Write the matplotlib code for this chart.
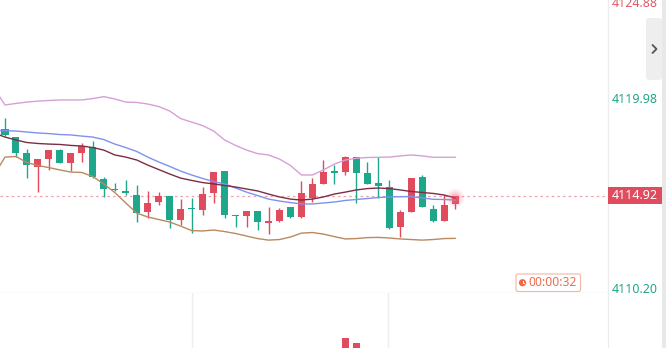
import matplotlib
matplotlib.use('Agg')
import matplotlib.pyplot as plt
from matplotlib.patches import Rectangle, FancyBboxPatch, Circle
import matplotlib.transforms as mtrans

plt.rcParams['font.family'] = ['Noto Sans', 'DejaVu Sans']

# ---------------- data ----------------
idx = list(range(42))
opens = [4118.35, 4117.94, 4117.14, 4116.42, 4116.84, 4117.28, 4116.63, 4117.14, 4117.42, 4115.78,
         4115.25, 4115.18, 4114.97, 4114.11, 4114.59, 4114.92, 4113.68, 4114.27, 4114.20, 4115.09,
         4116.20, 4113.93, 4113.90, 4114.15, 4113.51, 4113.63, 4114.34, 4113.85, 4114.83, 4115.55,
         4116.16, 4116.17, 4116.91, 4116.12, 4115.57, 4115.37, 4113.34, 4114.08, 4115.91, 4114.23,
         4113.65, 4114.49]
highs = [4118.91, 4117.94, 4117.34, 4116.82, 4117.28, 4117.35, 4117.11, 4117.63, 4117.76, 4115.91,
         4115.60, 4115.74, 4115.48, 4115.18, 4115.14, 4114.92, 4114.76, 4114.80, 4115.37, 4116.15,
         4116.20, 4113.93, 4114.15, 4114.15, 4114.34, 4114.30, 4114.34, 4115.69, 4115.83, 4116.77,
         4116.51, 4116.98, 4116.91, 4116.68, 4116.91, 4115.74, 4114.20, 4115.83, 4116.00, 4114.45,
         4114.97, 4114.92]
lows = [4118.03, 4116.94, 4115.86, 4115.14, 4116.26, 4116.63, 4116.20, 4116.68, 4115.84, 4114.85,
        4115.20, 4114.97, 4113.60, 4113.77, 4114.45, 4113.26, 4113.43, 4113.00, 4113.94, 4114.54,
        4113.77, 4113.31, 4113.31, 4113.17, 4112.96, 4113.60, 4113.77, 4113.80, 4114.59, 4115.55,
        4115.54, 4116.00, 4114.54, 4115.52, 4114.80, 4113.22, 4112.79, 4114.08, 4114.34, 4113.60,
        4113.65, 4114.25]
closes = [4118.04, 4117.14, 4116.50, 4116.81, 4117.28, 4116.63, 4117.11, 4117.49, 4115.88, 4115.26,
          4115.21, 4115.06, 4114.03, 4114.57, 4114.92, 4113.68, 4114.25, 4114.23, 4115.02, 4116.15,
          4113.94, 4113.89, 4114.15, 4113.57, 4113.63, 4114.20, 4113.85, 4115.09, 4115.54, 4116.14,
          4116.12, 4116.91, 4116.09, 4115.52, 4115.45, 4113.29, 4114.08, 4115.83, 4114.34, 4113.63,
          4114.45, 4114.92]

line_idx = list(range(-1, 42))
upper = [4120.47, 4119.60, 4119.68, 4119.75, 4119.80, 4119.83, 4119.86, 4119.86, 4119.86, 4119.93,
         4120.03, 4119.91, 4119.75, 4119.73, 4119.65, 4119.52, 4119.29, 4118.90, 4118.72, 4118.54,
         4118.26, 4117.80, 4117.52, 4117.28, 4117.10, 4117.03, 4116.82, 4116.49, 4116.00, 4116.00,
         4116.26, 4116.56, 4116.77, 4116.86, 4116.90, 4116.91, 4116.92, 4116.98, 4117.03, 4116.98,
         4116.91, 4116.91, 4116.91]
middle = [4118.16, 4117.95, 4117.80, 4117.67, 4117.62, 4117.59, 4117.57, 4117.52, 4117.49, 4117.41,
          4117.28, 4117.03, 4116.92, 4116.77, 4116.51, 4116.28, 4116.05, 4115.84, 4115.72, 4115.61,
          4115.54, 4115.46, 4115.38, 4115.28, 4115.18, 4115.02, 4114.87, 4114.76, 4114.71, 4114.76,
          4114.87, 4115.02, 4115.12, 4115.23, 4115.30, 4115.33, 4115.30, 4115.23, 4115.15, 4115.10,
          4115.05, 4114.97, 4114.82]
ma_blue = [4118.29, 4118.28, 4118.26, 4118.21, 4118.16, 4118.13, 4118.08, 4118.06, 4118.00, 4117.95,
           4117.82, 4117.59, 4117.41, 4117.21, 4116.92, 4116.67, 4116.44, 4116.20, 4116.00, 4115.82,
           4115.66, 4115.54, 4115.33, 4115.12, 4114.94, 4114.76, 4114.66, 4114.58, 4114.51, 4114.51,
           4114.56, 4114.61, 4114.69, 4114.74, 4114.79, 4114.84, 4114.87, 4114.88, 4114.89, 4114.82,
           4114.75, 4114.74, 4114.71]
lower = [4116.00, 4116.92, 4116.95, 4116.64, 4116.49, 4116.38, 4116.26, 4116.15, 4116.13, 4115.92,
         4115.54, 4115.10, 4114.56, 4114.04, 4113.84, 4113.71, 4113.58, 4113.37, 4113.14, 4113.12,
         4113.17, 4113.09, 4112.99, 4112.86, 4112.73, 4112.65, 4112.68, 4112.81, 4113.01, 4113.04,
         4112.96, 4112.83, 4112.71, 4112.73, 4112.78, 4112.79, 4112.76, 4112.71, 4112.68, 4112.65,
         4112.68, 4112.73, 4112.74]

last_price = 4114.92
axis_ticks = [4124.88, 4119.98, 4110.20]
axis_tick_labels = ['4124.88', '4119.98', '4110.20']
axis_tick_colors = ['#e05a6a', '#22a68a', '#22a68a']

vol_idx = [31, 32]
vol = [10.3, 5.3]
vol_colors = ['#e04b5e', '#e04b5e']
time_grid = [17.03, 34.88]
timer_text = '00:00:32'

RED = '#e04b5e'
GREEN = '#1fa78b'

# ---------------- figure ----------------
W, H = 666, 348
fig = plt.figure(figsize=(W / 100, H / 100), dpi=100)
fig.patch.set_facecolor('white')

ax = fig.add_axes([0, (H - 293) / H, 608 / W, 293 / H])
ax.set_xlim(-0.455, 54.92)
ax.set_ylim(4109.93, 4125.00)
ax.set_facecolor('white')

for s in ['top', 'left']:
    ax.spines[s].set_visible(False)
ax.spines['right'].set_color('#ececec')
ax.spines['bottom'].set_color('#ececec')
ax.spines['right'].set_linewidth(1.0)
ax.spines['bottom'].set_linewidth(1.0)
ax.set_xticks([])
ax.yaxis.tick_right()
ax.set_yticks(axis_ticks)
ax.set_yticklabels(axis_tick_labels)
ax.tick_params(axis='y', length=0, pad=3, labelsize=9)
for lab, col in zip(ax.get_yticklabels(), axis_tick_colors):
    lab.set_color(col)

# current price dotted line
ax.axhline(last_price, color='#f0a2aa', lw=0.9, ls=(0, (2, 2.5)), zorder=1)

# candles
bw = 0.64
for i, o, h, l, c in zip(idx, opens, highs, lows, closes):
    col = RED if c >= o else GREEN
    ax.vlines(i, l, h, color=col, lw=1.0, zorder=2)
    b = min(o, c)
    hgt = max(abs(c - o), 0.06)
    ax.add_patch(Rectangle((i - bw / 2, b), bw, hgt, facecolor=col, edgecolor='none', zorder=3))

# indicator lines
ax.plot(line_idx, upper, color='#d6a0d6', lw=1.0, zorder=4)
ax.plot(line_idx, lower, color='#b98a60', lw=1.0, zorder=4)
ax.plot(line_idx, ma_blue, color='#7f91ee', lw=1.0, zorder=4)
ax.plot(line_idx, middle, color='#7a2e43', lw=1.0, zorder=4)

# glow on last candle
for s_, a_ in [(170, 0.10), (95, 0.15), (45, 0.22)]:
    ax.scatter([idx[-1]], [last_price - 0.1], s=s_, color='#f26b7a', alpha=a_,
               edgecolors='none', zorder=5)

# price label box on the right
tr = mtrans.blended_transform_factory(ax.transAxes, ax.transData)
box_h = 17 / 19.44
ax.add_patch(Rectangle((1.0, last_price - box_h / 2), 55 / 608, box_h, transform=tr,
                       facecolor=RED, edgecolor='none', clip_on=False, zorder=6))
ax.text(1.0 + 4 / 608, last_price, '4114.92', transform=tr, ha='left', va='center',
        color='white', fontsize=9, zorder=7, clip_on=False)

# ---------------- volume pane ----------------
vax = fig.add_axes([0, 0, 608 / W, 55 / H])
vax.set_xlim(-0.455, 54.92)
vax.set_ylim(0, 55)
for s in ['top', 'left', 'bottom']:
    vax.spines[s].set_visible(False)
vax.spines['right'].set_color('#ececec')
vax.set_xticks(time_grid)
vax.set_xticklabels([])
vax.tick_params(length=0)
vax.set_yticks([])
vax.grid(axis='x', color='#eeeeee', lw=1.0)
vax.bar(vol_idx, vol, width=0.7, color=vol_colors, zorder=3)

# ---------------- UI overlay ----------------
oax = fig.add_axes([0, 0, 1, 1], zorder=10)
oax.set_xlim(0, W)
oax.set_ylim(H, 0)
oax.axis('off')
oax.patch.set_alpha(0)

oax.add_patch(Rectangle((662, 0), 4, H, facecolor='#e8e8e8', edgecolor='none'))
oax.add_patch(FancyBboxPatch((646, 18), 16, 62, boxstyle='round,pad=0,rounding_size=3',
                             facecolor='#eeeeee', edgecolor='none'))
oax.plot([652.5, 656.5, 652.5], [45, 49, 53], color='#555555', lw=1.3,
         solid_capstyle='round', solid_joinstyle='round')

# timer box
oax.add_patch(FancyBboxPatch((516, 274), 64.5, 17.5, boxstyle='round,pad=0,rounding_size=2',
                             facecolor='white', edgecolor='#f3b7a4', lw=0.8))
oax.add_patch(Circle((522.5, 282.7), 3.6, facecolor='#ee6a45', edgecolor='none'))
oax.plot([522.5, 522.5, 524.2], [280.6, 282.9, 282.9], color='white', lw=0.7)
oax.text(528, 283, timer_text, ha='left', va='center', color='#ee6b4d', fontsize=8.7)

fig.savefig('out.png', dpi=100, facecolor='white')
